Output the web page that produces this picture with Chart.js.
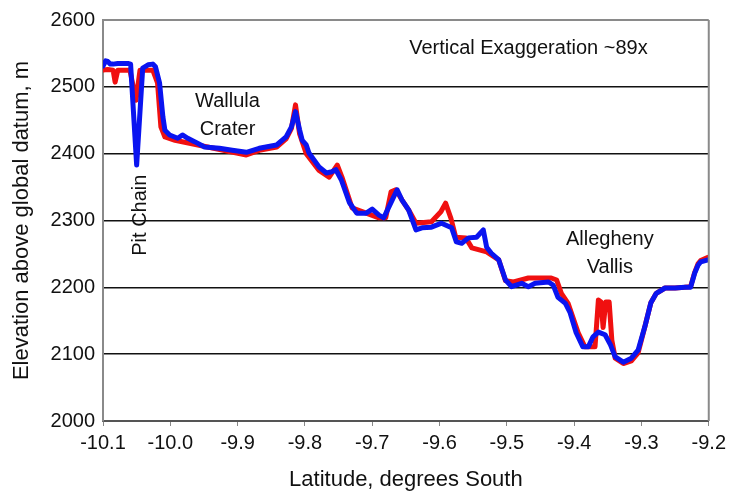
<!DOCTYPE html>
<html>
<head>
<meta charset="utf-8">
<script src="https://cdn.jsdelivr.net/npm/chart.js@4.4.1/dist/chart.umd.min.js"></script>
<style>
html,body{margin:0;padding:0;background:#fff;}
#wrap{width:731px;height:496px;position:relative;}
</style>
</head>
<body>
<div id="wrap"><canvas id="c"></canvas></div>
<script>
// ---- data (latitude, elevation) ----
const blueLat = [-10.100,-10.096,-10.093,-10.089,-10.085,-10.078,-10.067,-10.063,-10.059,-10.050,-10.041,-10.033,-10.026,-10.022,-10.016,-10.011,-10.008,-10.001,-9.989,-9.982,-9.974,-9.964,-9.949,-9.927,-9.908,-9.887,-9.868,-9.842,-9.828,-9.820,-9.814,-9.808,-9.804,-9.798,-9.794,-9.779,-9.768,-9.760,-9.754,-9.746,-9.734,-9.723,-9.709,-9.700,-9.690,-9.683,-9.672,-9.663,-9.656,-9.646,-9.635,-9.626,-9.612,-9.597,-9.582,-9.575,-9.567,-9.557,-9.545,-9.535,-9.530,-9.523,-9.512,-9.502,-9.493,-9.478,-9.468,-9.458,-9.438,-9.431,-9.424,-9.413,-9.406,-9.397,-9.387,-9.379,-9.372,-9.364,-9.354,-9.346,-9.339,-9.327,-9.315,-9.305,-9.295,-9.286,-9.278,-9.265,-9.250,-9.236,-9.227,-9.221,-9.216,-9.212,-9.201];
const blueElev = [2531,2539,2538,2534,2534,2535,2535,2535,2534,2383,2528,2533,2534,2530,2506,2455,2435,2428,2423,2428,2423,2418,2410,2408,2405,2402,2408,2413,2425,2440,2463,2436,2420,2413,2401,2380,2371,2373,2376,2361,2327,2311,2311,2317,2308,2304,2327,2346,2331,2316,2286,2289,2290,2296,2289,2268,2266,2274,2275,2286,2260,2251,2241,2211,2201,2206,2201,2206,2208,2203,2185,2176,2162,2132,2111,2111,2126,2133,2129,2114,2096,2088,2094,2106,2141,2177,2191,2199,2199,2200,2200,2221,2233,2238,2241];

const redLat = [-10.100,-10.093,-10.085,-10.082,-10.078,-10.060,-10.051,-10.045,-10.026,-10.019,-10.014,-10.008,-9.993,-9.959,-9.887,-9.868,-9.842,-9.828,-9.820,-9.814,-9.808,-9.798,-9.779,-9.764,-9.752,-9.745,-9.730,-9.709,-9.690,-9.680,-9.672,-9.665,-9.656,-9.646,-9.635,-9.612,-9.598,-9.591,-9.583,-9.576,-9.561,-9.552,-9.530,-9.512,-9.502,-9.490,-9.468,-9.453,-9.434,-9.426,-9.419,-9.409,-9.394,-9.384,-9.369,-9.364,-9.360,-9.357,-9.353,-9.348,-9.344,-9.339,-9.327,-9.315,-9.305,-9.295,-9.286,-9.278,-9.265,-9.250,-9.236,-9.227,-9.221,-9.216,-9.212,-9.201];
const redElev = [2525,2526,2525,2507,2525,2525,2480,2525,2525,2506,2440,2425,2420,2413,2398,2405,2410,2422,2438,2473,2430,2400,2375,2365,2383,2365,2319,2311,2304,2304,2343,2346,2331,2316,2296,2298,2313,2326,2303,2275,2274,2259,2253,2241,2210,2208,2214,2214,2214,2211,2191,2176,2132,2111,2111,2181,2178,2140,2178,2178,2121,2094,2086,2090,2102,2141,2177,2191,2199,2199,2200,2201,2222,2235,2240,2245];

const xTicks = [-10.1,-10.0,-9.9,-9.8,-9.7,-9.6,-9.5,-9.4,-9.3,-9.2];
const yTicks = [2000,2100,2200,2300,2400,2500,2600];

// annotations: [text, latitude, elevation, rotation]
const notes = [
  ["Vertical Exaggeration ~89x", -9.468, 2558, 0],
  ["Wallula", -9.915, 2478, 0],
  ["Crater", -9.915, 2436, 0],
  ["Pit Chain", -10.045, 2308, -90],
  ["Allegheny", -9.347, 2271, 0],
  ["Vallis", -9.347, 2229, 0]
];

const toXY = (xs, ys) => xs.map((x, i) => ({x: x, y: ys[i]}));
const FONT = "'Liberation Sans', Arial, sans-serif";

const annotPlugin = {
  id: 'annot',
  afterDatasetsDraw(chart) {
    const {ctx, chartArea, scales} = chart;
    ctx.save();
    // right border
    ctx.strokeStyle = '#8a8a8a';
    ctx.lineWidth = 2;
    ctx.beginPath();
    ctx.moveTo(chartArea.right, chartArea.top);
    ctx.lineTo(chartArea.right, chartArea.bottom);
    ctx.stroke();
    ctx.fillStyle = '#111';
    ctx.font = '20px ' + FONT;
    ctx.textAlign = 'center';
    ctx.textBaseline = 'middle';
    notes.forEach(n => {
      const px = scales.x.getPixelForValue(n[1]);
      const py = scales.y.getPixelForValue(n[2]);
      ctx.save();
      ctx.translate(px, py);
      ctx.rotate(n[3] * Math.PI / 180);
      ctx.fillText(n[0], 0, 0);
      ctx.restore();
    });
    ctx.restore();
  }
};

new Chart(document.getElementById('c'), {
  type: 'line',
  data: {
    datasets: [
      {data: toXY(blueLat, blueElev), borderColor: '#0a14f0', borderWidth: 5, order: 0},
      {data: toXY(redLat, redElev), borderColor: '#f01010', borderWidth: 5, order: 1}
    ]
  },
  options: {
    responsive: true,
    maintainAspectRatio: false,
    animation: false,
    devicePixelRatio: 1,
    layout: {padding: {left: 0, right: 20, top: 20, bottom: 0}},
    elements: {point: {radius: 0}, line: {tension: 0, borderJoinStyle: 'round', borderCapStyle: 'round'}},
    plugins: {legend: {display: false}, tooltip: {enabled: false}},
    scales: {
      x: {
        type: 'linear',
        min: -10.1, max: -9.2,
        afterBuildTicks: s => { s.ticks = xTicks.map(v => ({value: v})); },
        afterFit: s => { s.height = 75; },
        ticks: {
          color: '#111', font: {family: FONT, size: 20}, padding: 5,
          maxRotation: 0, autoSkip: false,
          callback: v => Number(v).toFixed(1)
        },
        grid: {drawOnChartArea: false, drawTicks: true, tickLength: 5, color: '#888', lineWidth: 1},
        border: {display: true, color: '#555', width: 2},
        title: {display: true, text: 'Latitude, degrees South', color: '#111', font: {family: FONT, size: 22}, padding: {top: 0, bottom: 3}}
      },
      y: {
        type: 'linear',
        min: 2000, max: 2600,
        afterBuildTicks: s => { s.ticks = yTicks.map(v => ({value: v})); },
        afterFit: s => { s.width = 103; },
        ticks: {color: '#111', font: {family: FONT, size: 20}, padding: 8, callback: v => String(v)},
        grid: {
          drawTicks: false,
          color: c => (c.tick && (c.tick.value === 2600)) ? '#8a8a8a' : (c.tick && c.tick.value === 2000 ? 'rgba(0,0,0,0)' : '#111'),
          lineWidth: c => (c.tick && c.tick.value === 2600) ? 2 : 1.5
        },
        border: {display: true, color: '#8a8a8a', width: 2},
        title: {display: true, text: 'Elevation above global datum, m', color: '#111', font: {family: FONT, size: 22}, padding: {top: 9, bottom: 0}}
      }
    }
  },
  plugins: [annotPlugin]
});
</script>
</body>
</html>
